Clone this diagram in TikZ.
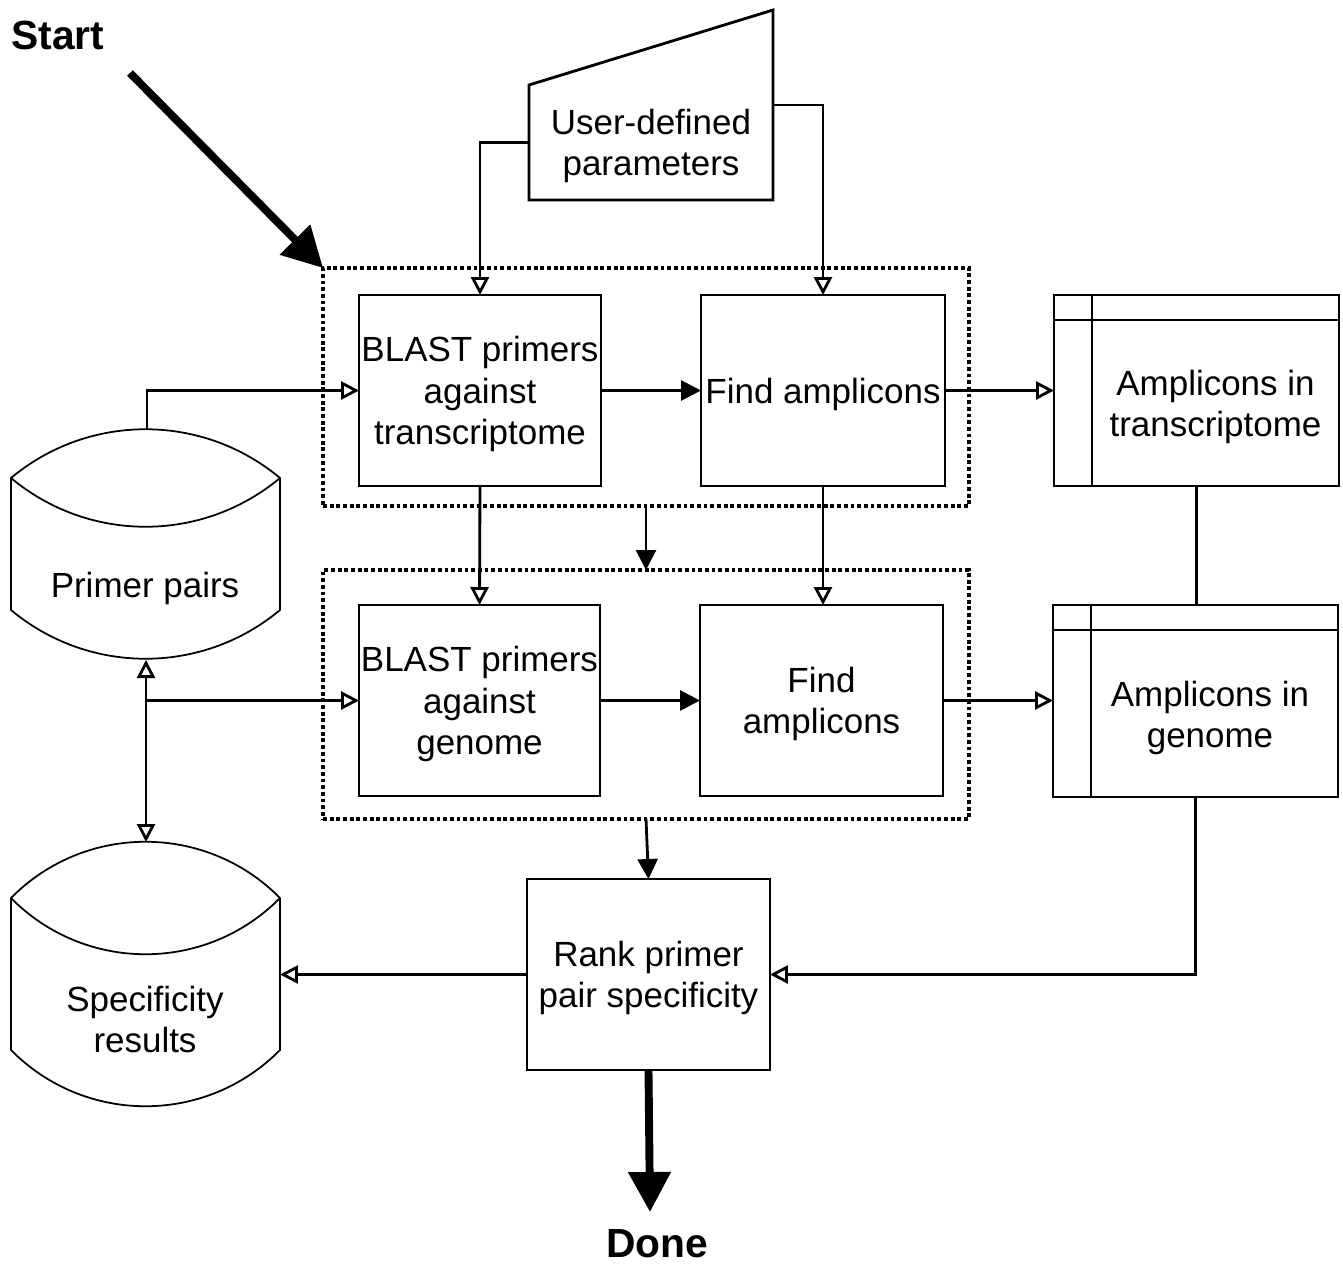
\documentclass[tikz,border=0pt]{standalone}
\usepackage{fontspec}
\setmainfont{Liberation Sans}
\usetikzlibrary{arrows.meta,calc}
\begin{document}
\begin{tikzpicture}[x=0.02cm,y=-0.02cm,
  txt/.style={font=\fontsize{19.9}{23.5}\selectfont, align=center, inner sep=0pt, text depth=0pt},
  boldtxt/.style={font=\fontsize{23.2}{27}\selectfont\bfseries, inner sep=0pt},
  procbox/.style={draw, line width=1.6pt, txt, outer sep=0pt, fill=white},
  ghost/.style={txt, outer sep=0pt},
  dotbox/.style={draw, line width=2.2pt, dash pattern=on 2.2pt off 1.6pt, inner sep=0pt, outer sep=0pt},
  conn/.style={line width=1.6pt},
  oarrow/.style={conn, -{Triangle[open, length=0.36cm, width=0.36cm]}},
  farrow/.style={conn, -{Triangle[length=0.4cm, width=0.4cm]}},
  bigarrow/.style={line width=4.5pt, -{Triangle[length=0.8cm, width=0.82cm]}},
  cyl/.style={line width=1pt, fill=white},
  deco/.style={line width=1.6pt}
]
\useasboundingbox (0,0) rectangle (1343,1264);

% dotted groups
\node[dotbox, minimum width=12.92cm, minimum height=4.76cm] (D1) at (646,387) {};
\node[dotbox, minimum width=12.92cm, minimum height=4.98cm] (D2) at (646,694.5) {};

% user-defined parameters (manual input)
\node[ghost, minimum width=4.88cm, minimum height=2.3cm] (udp) at (651,142.5) {User-defined\\parameters};
\draw[deco] (udp.south west) -- (udp.north west) -- ([yshift=1.5cm]udp.north east) -- (udp.south east) -- cycle;

% process boxes
\node[procbox, minimum width=4.84cm, minimum height=3.82cm] (B1) at (480,390.5) {BLAST primers\\against\\transcriptome};
\node[procbox, minimum width=4.88cm, minimum height=3.82cm] (F1) at (823,390.5) {Find amplicons};
\node[procbox, minimum width=4.82cm, minimum height=3.82cm] (B2) at (479.5,700.5) {BLAST primers\\against\\genome};
\node[procbox, minimum width=4.86cm, minimum height=3.82cm] (F2) at (821.5,700.5) {Find\\amplicons};
\node[procbox, minimum width=4.86cm, minimum height=3.82cm] (Rank) at (648.5,974.5) {Rank primer\\pair specificity};

% internal storage boxes
\node[procbox, minimum width=5.7cm, minimum height=3.82cm] (A1) at (1196.5,390.5) {};
\draw[deco] ([yshift=-0.5cm]A1.north west) -- ([yshift=-0.5cm]A1.north east);
\draw[deco] ([xshift=0.76cm]A1.north west) -- ([xshift=0.76cm]A1.south west);
\node[txt] (A1t) at (1215.5,403) {Amplicons in\\transcriptome};
\node[procbox, minimum width=5.7cm, minimum height=3.84cm] (A2) at (1195.5,701) {};
\draw[deco] ([yshift=-0.5cm]A2.north west) -- ([yshift=-0.5cm]A2.north east);
\draw[deco] ([xshift=0.76cm]A2.north west) -- ([xshift=0.76cm]A2.south west);
\node[txt] (A2t) at (1210,714) {Amplicons in\\genome};

% databases (cylinders)
\draw[cyl] (11,478) .. controls (89,413) and (202,413) .. (280,478) -- (280,610)
  .. controls (202,675) and (89,675) .. (11,610) -- cycle;
\draw[cyl, fill=none] (11,478) .. controls (89,543) and (202,543) .. (280,478);
\node[txt] (PP) at (145,585) {Primer pairs};
\coordinate (PPtop) at (147,430);
\coordinate (PPbot) at (146,660);

\draw[cyl] (11,898) .. controls (85,823) and (206,823) .. (280,898) -- (280,1050)
  .. controls (206,1125) and (85,1125) .. (11,1050) -- cycle;
\draw[cyl, fill=none] (11,898) .. controls (85,973) and (206,973) .. (280,898);
\node[txt] (SR) at (145,1019) {Specificity\\results};
\coordinate (SRtop) at (146,842);
\coordinate (SRr) at (280,974.5);

% start / done
\node[boldtxt] (start) at (58,35) {Start};
\coordinate (st0) at (130,73);
\draw[bigarrow] (st0) -- (D1.north west);
\node[boldtxt] (done) at (657,1244) {Done};
\coordinate (dn) at (650,1212);
\draw[bigarrow] (Rank.south) -- (dn);

% connectors
\draw[oarrow] (udp.west) -| (B1.north);
\draw[oarrow] ([yshift=0.75cm]udp.east) -| (F1.north);
\draw[oarrow] (PPtop) |- (B1.west);
\coordinate (J) at (146,700.5);
\draw[oarrow] (J) -- (B2.west);
\draw[oarrow] (J) -- (PPbot);
\draw[oarrow] (J) -- (SRtop);
\draw[oarrow] (B1.south) -- (B2.north);
\draw[oarrow] (F1.south) -- (F1.south |- F2.north);
\draw[farrow] (B1.east) -- (F1.west);
\draw[farrow] (B2.east) -- (F2.west);
\draw[oarrow] (F1.east) -- (A1.west);
\draw[oarrow] (F2.east) -- (F2.east -| A2.west);
\draw[conn] (A1.south) -- (A1.south |- A2.north);
\draw[oarrow] (A2.south) |- (Rank.east);
\draw[oarrow] (Rank.west) -- (SRr);
\draw[farrow] (D1.south) -- (D2.north);
\draw[farrow] (D2.south) -- (Rank.north);
\end{tikzpicture}
\end{document}
